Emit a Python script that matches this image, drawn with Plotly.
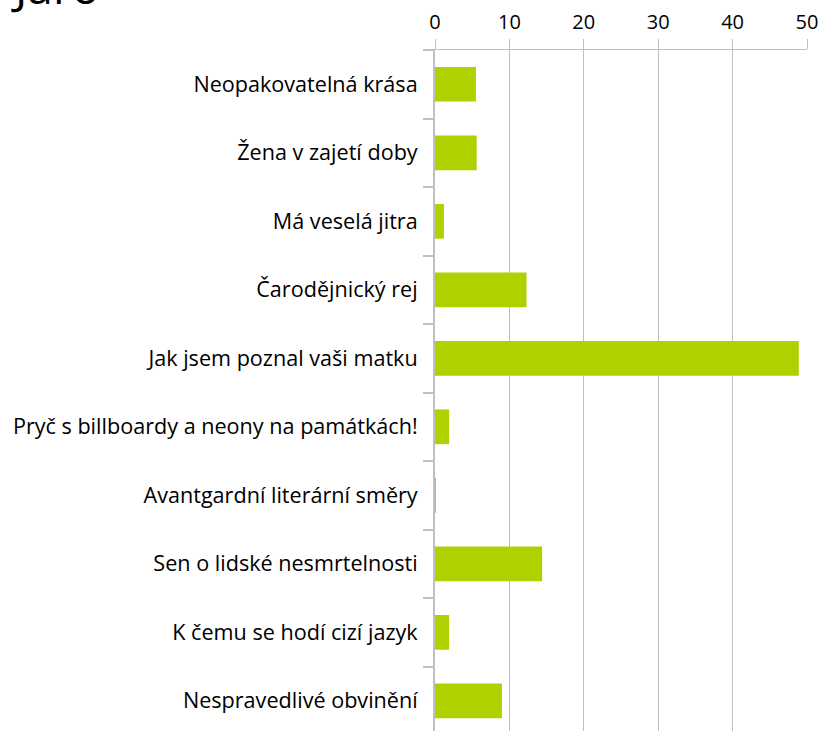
import plotly.graph_objects as go

categories = [
    "Neopakovatelná krása",
    "Žena v zajetí doby",
    "Má veselá jitra",
    "Čarodějnický rej",
    "Jak jsem poznal vaši matku",
    "Pryč s billboardy a neony na památkách!",
    "Avantgardní literární směry",
    "Sen o lidské nesmrtelnosti",
    "K čemu se hodí cizí jazyk",
    "Nespravedlivé obvinění",
]
values = [5.5, 5.6, 1.2, 12.3, 48.9, 1.9, 0.1, 14.4, 1.9, 9.0]
x_ticks = [0, 10, 20, 30, 40, 50]
title_text = "Jaro"

FONT = "Open Sans, sans-serif"
GRID = "#BFBFBF"

fig = go.Figure(
    go.Bar(
        x=values,
        y=categories,
        orientation="h",
        marker=dict(color="#B0D000", line=dict(width=0)),
        width=0.507,
        hoverinfo="x+y",
    )
)

fig.update_layout(
    width=823,
    height=731,
    margin=dict(l=435, r=16, t=50, b=0, autoexpand=False),
    paper_bgcolor="white",
    plot_bgcolor="white",
    showlegend=False,
    font=dict(family=FONT, size=21.6, color="#000000"),
    xaxis=dict(
        side="top",
        range=[0, 50],
        tickvals=x_ticks,
        ticktext=[str(v) for v in x_ticks],
        showgrid=True,
        gridcolor=GRID,
        gridwidth=1,
        showline=True,
        linecolor=GRID,
        linewidth=1,
        ticks="outside",
        ticklen=10,
        tickcolor=GRID,
        zeroline=False,
        automargin=False,
        ticklabelstandoff=2,
        tickfont=dict(family=FONT, size=20, color="#000000"),
        fixedrange=True,
    ),
    yaxis=dict(
        type="category",
        categoryorder="array",
        categoryarray=categories[::-1],
        range=[-0.44, 9.5],
        showgrid=False,
        showline=True,
        linecolor=GRID,
        linewidth=2,
        ticks="outside",
        tickson="boundaries",
        ticklen=10,
        tickcolor=GRID,
        tickwidth=1.5,
        zeroline=False,
        automargin=False,
        ticklabelstandoff=11,
        tickfont=dict(family=FONT, size=21.6, color="#000000"),
        fixedrange=True,
    ),
    annotations=[
        dict(
            text=title_text,
            xref="paper",
            yref="paper",
            x=-1.145,
            y=1.0646,
            xanchor="left",
            yanchor="bottom",
            yshift=-13,
            showarrow=False,
            font=dict(family=FONT, size=46, color="#000000"),
        )
    ],
)

fig.write_html(
    "out.html",
    config={"displayModeBar": False},
    post_script="document.body.style.margin='0';document.body.style.overflow='hidden';",
)
